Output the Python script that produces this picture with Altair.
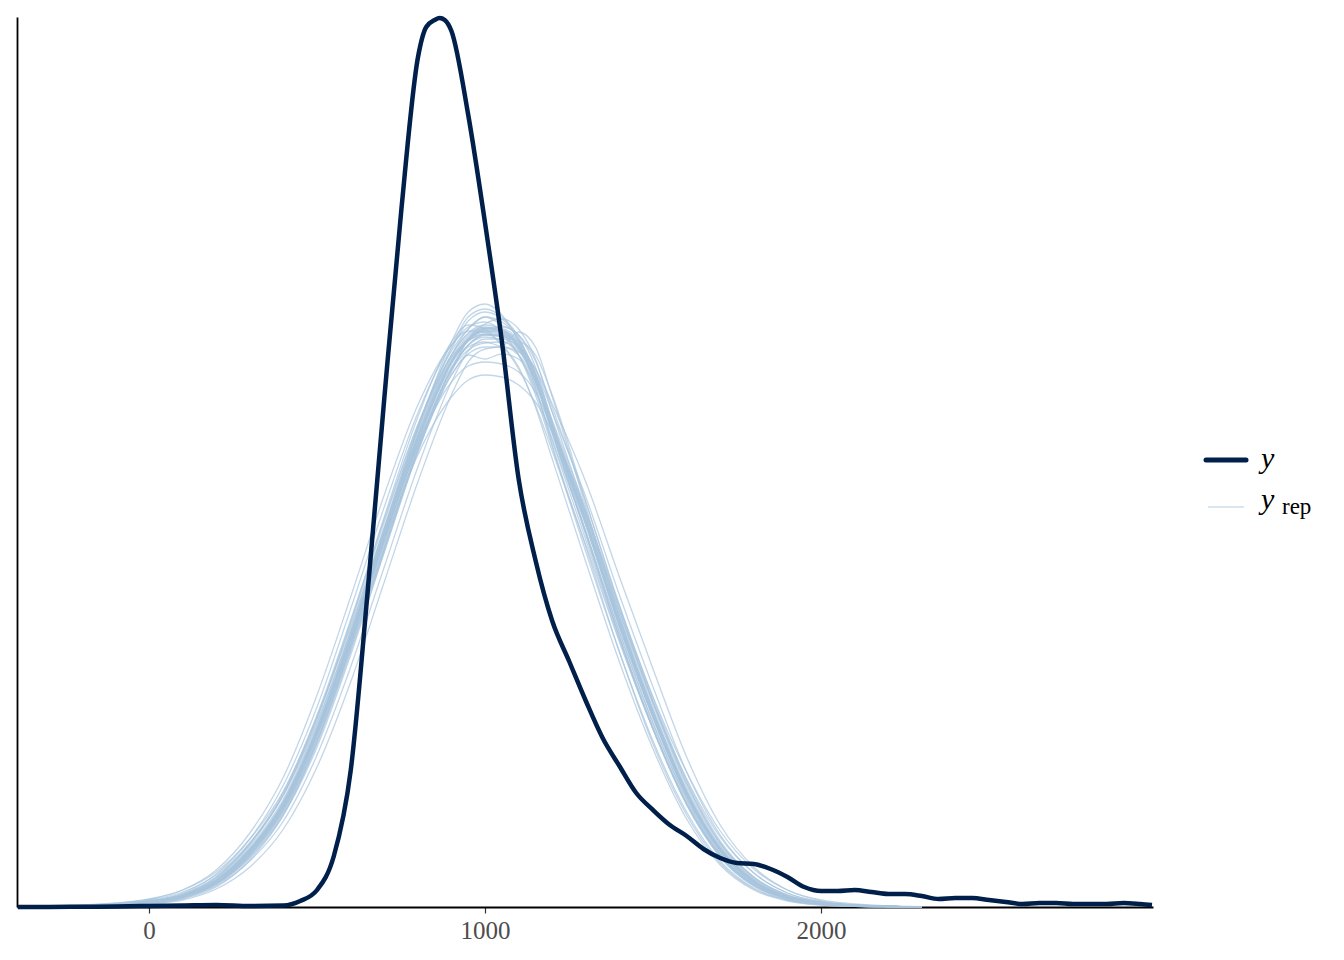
import altair as alt
import pandas as pd

y_x = [-390, -300, -200, -100, 0, 100, 200, 300, 400, 450, 500, 550, 600, 650, 700,
       750, 800, 825, 850, 865, 880, 900, 950, 1000, 1050, 1100, 1150, 1200, 1250, 1300,
       1350, 1400, 1450, 1500, 1550, 1600, 1650, 1700, 1750, 1800, 1850, 1900, 1950, 2000,
       2050, 2100, 2150, 2200, 2250, 2300, 2350, 2400, 2450, 2500, 2550, 2600, 2650, 2700,
       2750, 2800, 2850, 2900, 2950, 2985]
y_dens = [0, 0, 0.3, 0.5, 1, 1.5, 2, 1, 1.5, 6, 17, 51, 136, 313, 508,
          694, 849, 880, 887, 889, 887, 876, 792, 684, 566, 428, 347, 286, 246, 206,
          169, 141, 114, 97, 82, 71, 58, 49, 44, 43, 38, 30, 20, 16,
          16, 17, 15, 13, 13, 11, 8, 9, 9, 7, 5, 3, 4, 4,
          3, 3, 3, 4, 3, 2]

# ---- replicated densities y_rep ----
yrep_x = [-390, -300, -200, -100, 0, 100, 200, 300, 400, 500, 600, 700, 800, 900, 950,
          1000, 1050, 1100, 1150, 1200, 1300, 1400, 1500, 1600, 1700, 1800, 1900, 2000,
          2100, 2200, 2300]

yrep_01 = [0, 0, 1, 2, 5, 11, 26, 56, 102, 175, 268, 370, 468, 546, 568, 576, 574, 560, 528, 478, 385, 283, 192, 113, 57, 25, 10, 4, 1.5, 0.5, 0]
yrep_02 = [0, 0.5, 1, 3, 6, 14, 33, 68, 122, 200, 298, 400, 494, 562, 580, 585, 575, 552, 512, 460, 355, 255, 166, 95, 46, 19, 7, 3, 1, 0.3, 0]
yrep_03 = [0, 0, 0.5, 1.5, 4, 9, 21, 46, 86, 152, 240, 340, 440, 525, 556, 568, 568, 560, 538, 495, 410, 312, 220, 135, 72, 34, 14, 5, 2, 0.7, 0.2]
yrep_04 = [0, 0, 0.5, 1, 3, 8, 20, 47, 92, 165, 262, 372, 478, 565, 595, 603, 592, 565, 520, 462, 360, 255, 163, 92, 44, 18, 7, 2, 0.7, 0.2, 0]
yrep_05 = [0, 0.5, 1.5, 3.5, 7, 15, 32, 64, 112, 185, 275, 372, 462, 525, 541, 545, 543, 535, 515, 478, 395, 300, 210, 135, 76, 38, 17, 7, 3, 1, 0.3]
yrep_06 = [0, 0, 1, 2, 5, 11, 25, 54, 98, 170, 262, 362, 460, 538, 560, 565, 561, 575, 560, 510, 400, 290, 195, 115, 58, 26, 10, 4, 1.5, 0.5, 0]
yrep_07 = [0, 0, 0.5, 1.5, 4, 10, 23, 50, 93, 163, 255, 355, 455, 535, 568, 583, 588, 578, 548, 495, 395, 290, 198, 118, 60, 27, 11, 4, 1.5, 0.5, 0]
yrep_08 = [0, 0, 1, 2.5, 6, 13, 30, 63, 113, 190, 285, 390, 490, 565, 582, 578, 562, 538, 502, 456, 362, 265, 178, 104, 52, 22, 9, 3, 1, 0.3, 0]
yrep_09 = [0, 0, 1, 2, 5, 12, 27, 58, 105, 178, 270, 365, 452, 510, 527, 532, 530, 522, 505, 475, 392, 296, 205, 128, 70, 34, 14, 5, 2, 0.7, 0]
yrep_10 = [0, 0, 1, 2.5, 5.5, 12, 29, 62, 112, 188, 283, 385, 482, 556, 578, 590, 585, 568, 530, 475, 372, 270, 180, 104, 52, 22, 9, 3, 1, 0.3, 0]
yrep_11 = [0, 0, 0.5, 1.5, 4.5, 10, 24, 52, 96, 166, 258, 358, 458, 538, 562, 572, 570, 566, 552, 512, 405, 300, 205, 124, 64, 30, 12, 4.5, 1.8, 0.6, 0]
yrep_12 = [0, 1, 2, 4, 8, 17, 35, 68, 116, 190, 280, 378, 470, 540, 562, 570, 567, 552, 518, 468, 375, 275, 184, 108, 53, 23, 9, 3, 1, 0.3, 0]
yrep_13 = [0, 0, 0.5, 1.5, 4, 10, 23, 52, 98, 172, 270, 378, 480, 560, 590, 598, 590, 570, 532, 480, 375, 270, 178, 102, 50, 21, 8, 3, 1, 0.3, 0]
yrep_14 = [0, 0, 0.3, 1, 3, 7, 18, 40, 78, 140, 225, 325, 425, 512, 545, 558, 560, 555, 538, 503, 425, 330, 238, 150, 82, 40, 17, 6, 2, 0.8, 0.2]
yrep_15 = [0, 0.5, 1.5, 3.5, 7.5, 17, 37, 74, 130, 212, 310, 412, 502, 562, 576, 575, 562, 540, 500, 448, 345, 245, 158, 88, 42, 17, 6, 2, 0.7, 0.2, 0]
yrep_16 = [0, 0, 1, 2, 5, 11, 26, 57, 103, 176, 268, 368, 462, 532, 552, 548, 553, 548, 522, 478, 386, 285, 194, 115, 58, 26, 10, 4, 1.5, 0.5, 0]
yrep_17 = [0, 0, 1, 2, 5, 12, 28, 60, 108, 183, 277, 380, 478, 552, 573, 580, 576, 560, 525, 473, 375, 275, 184, 107, 53, 23, 9, 3.5, 1.3, 0.4, 0]
yrep_18 = [0, 0, 0.7, 1.7, 4.5, 10, 23, 51, 95, 166, 258, 358, 458, 537, 562, 572, 572, 562, 533, 487, 397, 296, 205, 124, 64, 29, 12, 4.5, 1.7, 0.6, 0]
yrep_19 = [0, 0, 1, 2, 5, 11, 26, 56, 102, 176, 270, 373, 472, 552, 578, 590, 582, 572, 540, 484, 383, 280, 189, 111, 56, 25, 10, 4, 1.5, 0.5, 0]
yrep_20 = [0, 0.3, 1, 2.5, 6, 13, 30, 64, 115, 192, 287, 388, 482, 550, 566, 573, 570, 552, 516, 466, 367, 267, 178, 103, 50, 21, 8, 3, 1, 0.3, 0]
yrep_21 = [0, 0, 0.8, 1.8, 4.7, 10, 24, 53, 97, 168, 260, 360, 456, 532, 553, 560, 560, 552, 525, 482, 393, 293, 202, 121, 62, 28, 11, 4.2, 1.6, 0.5, 0]
yrep_22 = [0, 0, 1, 2, 5, 11, 25, 55, 100, 172, 264, 366, 462, 537, 557, 564, 565, 556, 526, 478, 386, 284, 193, 114, 58, 26, 10, 4, 1.5, 0.5, 0]
yrep_23 = [0, 0, 0.6, 1.5, 4, 10, 24, 53, 100, 174, 270, 376, 478, 558, 586, 595, 588, 568, 530, 476, 373, 270, 178, 103, 51, 22, 8, 3, 1, 0.3, 0]
yrep_24 = [0, 0, 0.6, 1.5, 4, 9, 22, 49, 92, 160, 252, 355, 456, 538, 567, 578, 580, 572, 546, 500, 405, 302, 209, 127, 66, 30, 12, 4.5, 1.7, 0.6, 0]
yrep_25 = [0, 0, 1, 2, 5, 11, 26, 57, 104, 178, 271, 373, 470, 547, 568, 575, 572, 558, 526, 477, 384, 283, 192, 113, 57, 25, 10, 4, 1.5, 0.5, 0]
yrep_26 = [0, 0, 1, 2, 5, 11, 25, 55, 100, 173, 265, 367, 465, 544, 567, 577, 576, 563, 532, 482, 389, 287, 195, 115, 58, 26, 10, 4, 1.5, 0.5, 0]
yrep_27 = [0, 0, 1, 2, 5, 11.5, 27, 58, 105, 179, 272, 374, 472, 549, 571, 579, 575, 560, 527, 476, 382, 281, 190, 111, 56, 25, 10, 4, 1.5, 0.5, 0]
yrep_28 = [0, 0, 0.9, 2, 4.8, 10.5, 25, 55, 100, 172, 264, 366, 464, 543, 566, 576, 576, 565, 535, 485, 392, 289, 197, 116, 59, 26, 10, 4, 1.5, 0.5, 0]
yrep_29 = [0, 0, 1, 2, 5, 11, 26, 56, 103, 177, 270, 371, 468, 545, 566, 573, 571, 558, 527, 479, 387, 285, 193, 113, 57, 25, 10, 4, 1.5, 0.5, 0]
yrep_30 = [0, 0, 1, 2.2, 5.3, 12, 27, 58, 106, 180, 274, 377, 475, 552, 574, 582, 578, 562, 528, 476, 381, 280, 189, 110, 55, 24, 9.5, 3.8, 1.4, 0.5, 0]
yrep_31 = [0, 0, 0.9, 1.9, 4.8, 10.7, 25.5, 55.5, 101, 174, 266, 368, 466, 545, 568, 578, 578, 566, 534, 483, 388, 285, 193, 114, 58, 26, 10, 4, 1.5, 0.5, 0]
yrep_32 = [0, 0, 1, 2, 5, 11, 26, 56, 102, 175, 268, 370, 468, 546, 569, 579, 576, 561, 528, 478, 385, 283, 192, 113, 57, 25, 10, 4, 1.5, 0.5, 0]

yrep_curves = [yrep_01, yrep_02, yrep_03, yrep_04, yrep_05, yrep_06, yrep_07, yrep_08,
               yrep_09, yrep_10, yrep_11, yrep_12, yrep_13, yrep_14, yrep_15, yrep_16,
               yrep_17, yrep_18, yrep_19, yrep_20, yrep_21, yrep_22, yrep_23, yrep_24,
               yrep_25, yrep_26, yrep_27, yrep_28, yrep_29, yrep_30, yrep_31, yrep_32]

x_ticks = [0, 1000, 2000]

DARK = "#011f4b"
LIGHT = "#a8c5dd"
FONT = "Liberation Serif"

# ---- tables ----
assert len(y_x) == len(y_dens)
rows = []
for i, vals in enumerate(yrep_curves):
    assert len(vals) == len(yrep_x), (i, len(vals))
    for xv, dv in zip(yrep_x, vals):
        rows.append({"draw": f"rep{i + 1:02d}", "value": xv, "density": dv})
yrep_df = pd.DataFrame(rows)
y_df = pd.DataFrame({"value": y_x, "density": y_dens})

xscale = alt.Scale(domain=[-393, 2988], nice=False, zero=False)
yscale = alt.Scale(domain=[0, 890], nice=False)

xaxis = alt.Axis(values=x_ticks, title=None, grid=False, format="d",
                 domainColor="black", domainWidth=1.8,
                 tickColor="#333333", tickSize=6, tickWidth=1.2,
                 labelFont=FONT, labelFontSize=25, labelColor="#4d4d4d",
                 labelPadding=5)
yaxis = alt.Axis(title=None, labels=False, ticks=False, grid=False,
                 domainColor="black", domainWidth=1.8)

rep = alt.Chart(yrep_df).mark_line(
    color=LIGHT, opacity=0.7, strokeWidth=1.3, interpolate="monotone"
).encode(
    x=alt.X("value:Q", scale=xscale, axis=xaxis),
    y=alt.Y("density:Q", scale=yscale, axis=yaxis),
    detail="draw:N",
)

obs = alt.Chart(y_df).mark_line(
    color=DARK, strokeWidth=4.5, interpolate="monotone"
).encode(
    x=alt.X("value:Q", scale=xscale),
    y=alt.Y("density:Q", scale=yscale),
)

# ---- hand-made legend (y and y_rep with subscript) ----
one = pd.DataFrame({"k": [0]})
leg_y_line = alt.Chart(one).mark_rule(color=DARK, strokeWidth=5, strokeCap="round").encode(
    x=alt.value(1189), x2=alt.value(1229), y=alt.value(443))
leg_rep_line = alt.Chart(one).mark_rule(color="#b3cde0", strokeWidth=1.2).encode(
    x=alt.value(1191), x2=alt.value(1227), y=alt.value(490))
leg_y_txt = alt.Chart(pd.DataFrame({"t": ["y"]})).mark_text(
    font=FONT, fontStyle="italic", fontSize=30, color="black", align="left", baseline="alphabetic"
).encode(text="t:N", x=alt.value(1244), y=alt.value(451))
leg_rep_y_txt = alt.Chart(pd.DataFrame({"t": ["y"]})).mark_text(
    font=FONT, fontStyle="italic", fontSize=30, color="black", align="left", baseline="alphabetic"
).encode(text="t:N", x=alt.value(1244), y=alt.value(492))
leg_rep_sub = alt.Chart(pd.DataFrame({"t": ["rep"]})).mark_text(
    font=FONT, fontSize=23, color="black", align="left", baseline="alphabetic"
).encode(text="t:N", x=alt.value(1265), y=alt.value(497))

chart = alt.layer(
    rep, obs, leg_y_line, leg_rep_line, leg_y_txt, leg_rep_y_txt, leg_rep_sub
).properties(
    width=1136, height=890,
    padding={"left": 1, "top": 1, "right": 10, "bottom": 5},
    background="white",
).configure_view(strokeWidth=0, stroke="transparent")

chart.save("out.html", embed_options={"renderer": "svg", "actions": False})
